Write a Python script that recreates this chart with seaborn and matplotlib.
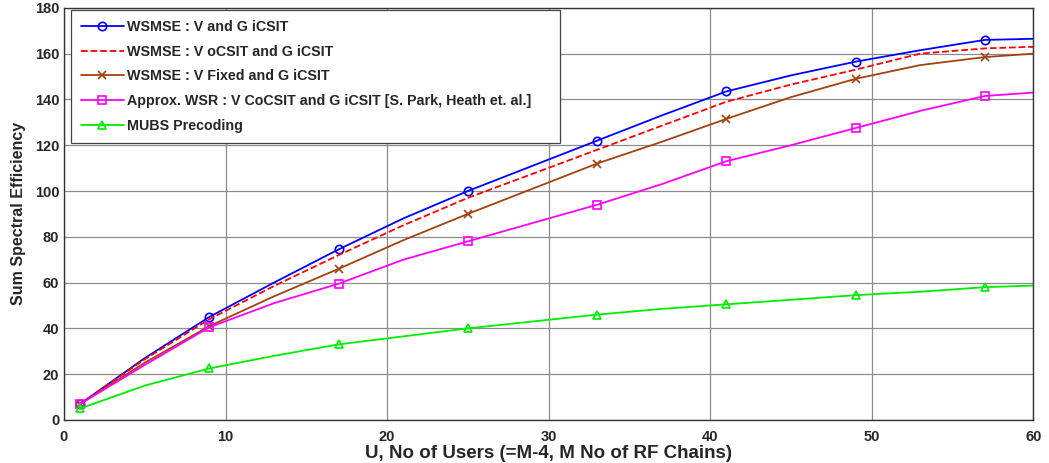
import pandas as pd
import matplotlib.pyplot as plt
import seaborn as sns

# values
users = [1, 5, 9, 13, 17, 21, 25, 29, 33, 37, 41, 45, 49, 53, 57, 60]
v_g_icsit = [7, 27, 45, 60, 74.5, 88, 100, 111, 122, 133, 143.5, 150.5, 156.5, 161.5, 166, 166.5]
v_ocsit = [7, 26.5, 44, 58.5, 72, 85, 97, 107.5, 118, 128.5, 139, 146.5, 153, 160, 162.3, 163]
v_fixed = [7, 25, 41, 54, 66, 78.5, 90, 101, 112, 121.5, 131.5, 141, 149, 155, 158.5, 160]
approx_wsr = [7, 24, 40.5, 51, 59.5, 70, 78, 86, 94, 103, 113, 120, 127.5, 135, 141.5, 143]
mubs = [5, 15, 22.5, 28, 33, 36.5, 40, 43, 46, 48.5, 50.5, 52.5, 54.5, 56, 58, 58.7]

labels = ['WSMSE : V and G iCSIT',
          'WSMSE : V oCSIT and G iCSIT',
          'WSMSE : V Fixed and G iCSIT',
          'Approx. WSR : V CoCSIT and G iCSIT [S. Park, Heath et. al.]',
          'MUBS Precoding']

sns.set_style('white')
plt.rcParams['font.family'] = ['Liberation Sans', 'DejaVu Sans']

fig, ax = plt.subplots(figsize=(10.49, 4.63), dpi=100)
fig.subplots_adjust(left=0.061, right=0.985, top=0.983, bottom=0.093)

styles = [
    dict(color='#0000ff', marker='o', linestyle='-'),
    dict(color='#ff0000', marker='', linestyle='--'),
    dict(color='#a3420f', marker='x', linestyle='-'),
    dict(color='#ff00ff', marker='s', linestyle='-'),
    dict(color='#00ee00', marker='^', linestyle='-'),
]
series = [v_g_icsit, v_ocsit, v_fixed, approx_wsr, mubs]

for vals, lab, st in zip(series, labels, styles):
    df = pd.DataFrame({'U': users, 'SE': vals})
    sns.lineplot(data=df, x='U', y='SE', ax=ax, label=lab,
                 color=st['color'], linestyle=st['linestyle'],
                 marker=st['marker'] or None, markersize=6,
                 markerfacecolor='none', markeredgecolor=st['color'],
                 markeredgewidth=1.2, linewidth=1.3,
                 markevery=slice(0, 15, 2))

ax.set_xlim(0, 60)
ax.set_ylim(0, 180)
ax.set_xticks(range(0, 61, 10))
ax.set_yticks(range(0, 181, 20))
ax.grid(True, color='#8c8c8c', linewidth=0.9)
ax.tick_params(direction='in', length=4, labelsize=10.5)
ax.tick_params(axis='x', pad=7)
for t in ax.get_xticklabels() + ax.get_yticklabels():
    t.set_fontweight('bold')
for s in ax.spines.values():
    s.set_color('#333333')
    s.set_linewidth(1.0)

fam = ['Liberation Sans Narrow', 'Liberation Sans', 'DejaVu Sans']
ax.set_xlabel('U, No of Users (=M-4, M No of RF Chains)', labelpad=1,
              family=fam, fontweight='bold', fontsize=13.5)
ax.set_ylabel('Sum Spectral Efficiency', labelpad=6,
              family=fam, fontweight='bold', fontsize=11.5)

# legend box spans roughly half the axes width, as in the reference
leg = ax.legend(loc='upper left', bbox_to_anchor=(0.007, 0.995, 0.505, 0.0),
                mode='expand', borderaxespad=0, fancybox=False,
                framealpha=1, edgecolor='#444444', handlelength=3.0,
                handletextpad=0.2, labelspacing=0.75, borderpad=0.7,
                prop=dict(weight='bold', size=10.3))
leg.get_frame().set_linewidth(0.9)

fig.savefig('out.png', dpi=100)
